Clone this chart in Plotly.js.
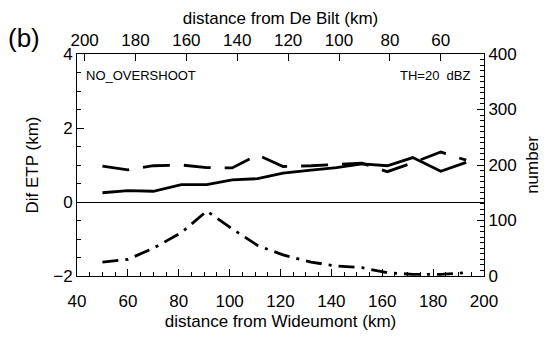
<!DOCTYPE html>
<html>
<head>
<meta charset="utf-8">
<script src="https://cdn.plot.ly/plotly-3.0.1.min.js"></script>
<style>
  html, body { margin: 0; padding: 0; background: #fff; }
  #chart { width: 551px; height: 338px; }
</style>
</head>
<body>
<div id="chart"></div>
<script>
// Distance from Wideumont (km) of each range bin
const distWideumont = [50, 60, 70, 81, 91, 101, 111, 121, 132, 142, 152, 162, 172, 183, 193];
// Mean ETP difference (km), solid line
const difEtp = [0.25, 0.31, 0.29, 0.47, 0.47, 0.60, 0.63, 0.78, 0.86, 0.93, 1.03, 0.98, 1.20, 0.83, 1.07];
// Spread of the ETP difference (km), dashed line
const difSpread = [0.97, 0.87, 0.98, 1.00, 0.93, 0.92, 1.27, 0.96, 0.98, 1.02, 1.05, 0.82, 1.06, 1.35, 1.13];
// Number of samples per bin, dash-dot line (right axis)
const sampleCount = [25, 30, 50, 78, 117, 85, 55, 38, 25, 18, 15, 6, 3, 3, 6];

// Tick labels of the two distance axes
const wideumontTicks = [40, 60, 80, 100, 120, 140, 160, 180, 200];
const deBiltTicks = [200, 180, 160, 140, 120, 100, 80, 60];
const radarSeparation = 243; // km between the two radars along the track

const FONT = 'Liberation Sans, Arial, sans-serif';
const ink = '#000';
const LABEL = 17;

const traces = [
  {
    x: distWideumont, y: difEtp, type: 'scatter', mode: 'lines',
    line: {color: ink, width: 2.8, dash: 'solid'}, xaxis: 'x', yaxis: 'y',
    hoverinfo: 'skip'
  },
  {
    x: distWideumont, y: difSpread, type: 'scatter', mode: 'lines',
    line: {color: ink, width: 2.8, dash: '27px,14px'}, xaxis: 'x', yaxis: 'y',
    hoverinfo: 'skip'
  },
  {
    x: distWideumont, y: sampleCount, type: 'scatter', mode: 'lines',
    line: {color: ink, width: 2.8, dash: '16px,7px,3px,7px'}, xaxis: 'x', yaxis: 'y2',
    hoverinfo: 'skip'
  },
  {
    // carries the De Bilt distance axis along the top
    x: [], y: [], type: 'scatter', mode: 'lines', xaxis: 'x2', yaxis: 'y',
    hoverinfo: 'skip'
  }
];

const axisCommon = {
  showline: true, linecolor: ink, linewidth: 1,
  ticks: 'inside', tickcolor: ink, tickwidth: 1, ticklen: 7,
  showgrid: false, zeroline: false,
  tickfont: {family: FONT, size: LABEL, color: ink},
  fixedrange: true
};

const layout = {
  width: 551, height: 338,
  margin: {l: 77, r: 67, t: 54, b: 62, pad: 0},
  paper_bgcolor: '#fff', plot_bgcolor: '#fff',
  showlegend: false,
  font: {family: FONT, size: LABEL, color: ink},
  xaxis: Object.assign({}, axisCommon, {
    range: [40, 200], tickmode: 'array', tickvals: wideumontTicks,
    ticklabelstandoff: 10,
    minor: {dtick: 5, ticks: 'inside', ticklen: 4, tickcolor: ink, showgrid: false},
    title: {text: 'distance from Wideumont (km)', font: {family: FONT, size: LABEL, color: ink}, standoff: 4},
    anchor: 'y', side: 'bottom'
  }),
  xaxis2: Object.assign({}, axisCommon, {
    overlaying: 'x', anchor: 'y', side: 'top',
    range: [radarSeparation - 40, radarSeparation - 200],
    tickmode: 'array', tickvals: deBiltTicks,
    title: {text: 'distance from De Bilt (km)', font: {family: FONT, size: LABEL, color: ink}, standoff: 2}
  }),
  yaxis: Object.assign({}, axisCommon, {
    range: [-2, 4], tickmode: 'array', tickvals: [-2, 0, 2, 4],
    ticktext: ['\u22122', '0', '2', '4'],
    minor: {dtick: 0.5, ticks: 'inside', ticklen: 4, tickcolor: ink, showgrid: false},
    zeroline: true, zerolinecolor: ink, zerolinewidth: 1,
    title: {text: 'Dif ETP (km)', font: {family: FONT, size: LABEL, color: ink}, standoff: 10},
    anchor: 'x', side: 'left'
  }),
  yaxis2: Object.assign({}, axisCommon, {
    overlaying: 'y', anchor: 'x', side: 'right',
    range: [0, 400], tickmode: 'array', tickvals: [0, 100, 200, 300, 400],
    minor: {dtick: 10, ticks: 'inside', ticklen: 4, tickcolor: ink, showgrid: false},
    title: {text: 'number', font: {family: FONT, size: LABEL, color: ink}, standoff: 10}
  }),
  annotations: [
    {text: '(b)', xref: 'paper', yref: 'paper', x: -0.175, y: 1.07,
     xanchor: 'left', yanchor: 'middle', showarrow: false,
     font: {family: FONT, size: 26, color: ink}},
    {text: 'NO_OVERSHOOT', xref: 'paper', yref: 'paper', x: 0.018, y: 0.905,
     xanchor: 'left', yanchor: 'middle', showarrow: false,
     font: {family: FONT, size: 13, color: ink}},
    {text: 'TH=20  dBZ', xref: 'paper', yref: 'paper', x: 0.972, y: 0.905,
     xanchor: 'right', yanchor: 'middle', showarrow: false,
     font: {family: FONT, size: 13, color: ink}}
  ]
};

Plotly.newPlot('chart', traces, layout, {staticPlot: true, displayModeBar: false});
</script>
</body>
</html>
